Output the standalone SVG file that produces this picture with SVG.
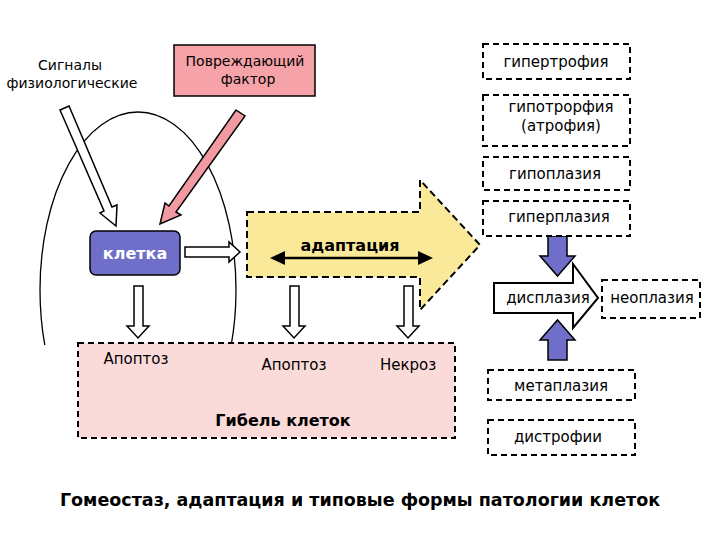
<svg xmlns="http://www.w3.org/2000/svg" width="720" height="540" viewBox="0 0 720 540">
<style>
text{font-family:"DejaVu Sans",Verdana,sans-serif;fill:#000}
.n{font-size:15px}
.d{fill:#fff;stroke:#000;stroke-width:2;stroke-dasharray:6,4}
.w{fill:#fff;stroke:#000;stroke-width:1.5}
.b{fill:#6f6fc9;stroke:#000;stroke-width:1.5}
</style>
<defs><clipPath id="top"><rect x="0" y="0" width="720" height="345"/></clipPath></defs>
<rect width="720" height="540" fill="#fff"/>
<g id="bg">
<ellipse cx="138" cy="290" rx="98" ry="178" fill="none" stroke="#000" stroke-width="1.3" clip-path="url(#top)"/>
<rect id="gibel" x="78" y="343" width="377" height="95" fill="#fbdada" stroke="#000" stroke-width="2" stroke-dasharray="6,4"/>
</g>
<g id="adapt">
<path d="M247,212 H420 V180 L480,245 L420,310 V277 H247 Z" fill="#fbe99a" stroke="#000" stroke-width="2" stroke-dasharray="7,4"/>
<text x="350" y="251" font-size="16" font-weight="bold" text-anchor="middle">адаптация</text>
</g>
<g id="connectors">
<path class="w" d="M60,110 L69,106 L112,207 L117,205 L116,226 L100,213 L104,211 Z"/>
<path d="M236,110 L245,116 L176,212 L181,215 L160,224 L165,203 L169,206 Z" fill="#f29aa2" stroke="#000" stroke-width="1.5"/>
<path class="w" d="M185,247 H229 V242 L240,252 L229,262 V257 H185 Z"/>
<line x1="283" y1="258" x2="420" y2="258" stroke="#000" stroke-width="2.5"/>
<path d="M270,258 L285,251 L285,265 Z M433,258 L418,251 L418,265 Z" fill="#000"/>
<path class="w" d="M134,286 H143 V326 H149 L138,338 L127,326 H134 Z"/>
<path class="w" d="M290,286 H299 V326 H305 L294,338 L283,326 H290 Z"/>
<path class="w" d="M404,286 H413 V326 H419 L408,338 L397,326 H404 Z"/>
<path class="b" d="M548,236 H567 V256 H575 L557.5,276 L540,256 H548 Z"/>
<path class="b" d="M548,360 H567 V340 H575 L557.5,320 L540,340 H548 Z"/>
</g>
<g id="signals"><text x="70" y="70" text-anchor="middle" font-size="14">Сигналы</text><text x="72" y="88" text-anchor="middle" font-size="14">физиологические</text></g>
<g id="factor"><rect x="174" y="45" width="141" height="51" fill="#f5a3a8" stroke="#000" stroke-width="1.5"/><text x="245" y="66" text-anchor="middle" font-size="14">Повреждающий</text><text x="248" y="84" text-anchor="middle" font-size="14">фактор</text></g>
<g id="kletka"><rect x="90" y="231" width="90" height="44" rx="6" class="b"/><text x="135" y="259" text-anchor="middle" font-size="16" font-weight="bold" style="fill:#fff">клетка</text></g>
<g id="texts-death">
<text class="n" x="136" y="364" text-anchor="middle">Апоптоз</text>
<text class="n" x="294" y="370" text-anchor="middle">Апоптоз</text>
<text class="n" x="408" y="370" text-anchor="middle">Некроз</text>
<text x="283" y="426" text-anchor="middle" font-size="16" font-weight="bold">Гибель клеток</text>
</g>
<g id="r1"><rect class="d" x="483" y="44" width="147" height="35"/><text class="n" x="556" y="67" text-anchor="middle">гипертрофия</text></g>
<g id="r2"><rect class="d" x="483" y="95" width="147" height="51"/><text class="n" x="561" y="112" text-anchor="middle">гипотрорфия</text><text class="n" x="561" y="131" text-anchor="middle">(атрофия)</text></g>
<g id="r3"><rect class="d" x="483" y="157" width="147" height="33"/><text class="n" x="555" y="179" text-anchor="middle">гипоплазия</text></g>
<g id="r4"><rect class="d" x="483" y="201" width="147" height="35"/><text class="n" x="559" y="222" text-anchor="middle">гиперплазия</text></g>
<g id="dysp"><path d="M494,283 H573 V264 L598,298 L573,328 V313 H494 Z" fill="#fff" stroke="#000" stroke-width="2"/><text class="n" x="548" y="303" text-anchor="middle">дисплазия</text></g>
<g id="neo"><rect class="d" x="602" y="280" width="98" height="38"/><text class="n" x="652" y="303" text-anchor="middle">неоплазия</text></g>
<g id="meta"><rect class="d" x="488" y="370" width="147" height="30"/><text class="n" x="561" y="391" text-anchor="middle">метаплазия</text></g>
<g id="dist"><rect class="d" x="488" y="420" width="147" height="35"/><text class="n" x="558" y="442" text-anchor="middle">дистрофии</text></g>
<text x="360" y="506" text-anchor="middle" font-size="17.5" font-weight="bold">Гомеостаз, адаптация и типовые формы патологии клеток</text>
</svg>
